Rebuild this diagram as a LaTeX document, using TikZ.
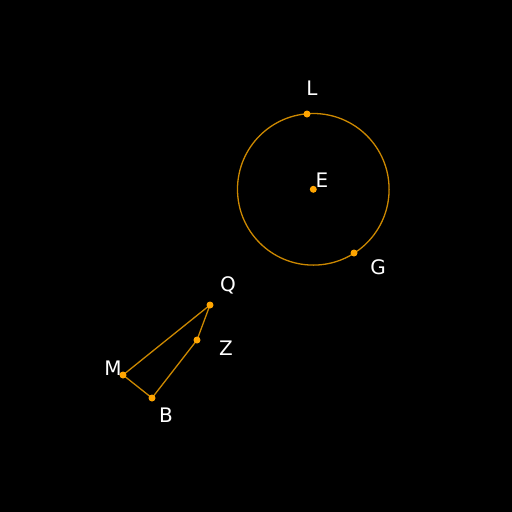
\documentclass[tikz,border=0pt]{standalone}
\usepackage{fontspec}
\setmainfont{DejaVu Sans}
\definecolor{lineor}{RGB}{204,136,0}
\definecolor{dotor}{RGB}{255,165,0}
\begin{document}
\begin{tikzpicture}[x=1pt,y=-1pt,
  seg/.style={draw=lineor,line width=1.3pt},
  pt/.style={circle,fill=dotor,inner sep=0pt,minimum size=7pt},
  lbl/.style={text=white,font=\fontsize{20}{20}\selectfont,inner sep=0pt}]
\fill[black] (0,0) rectangle (512,512);
\useasboundingbox (0,0) rectangle (512,512);
\coordinate (Ec) at (313.3,189.3);
\draw[seg] (Ec) circle[radius=75.8];
\coordinate (Qc) at (210,305);
\coordinate (Zc) at (197,340);
\coordinate (Bc) at (152,398);
\coordinate (Mc) at (123,375);
\draw[seg,line join=round] (Mc) -- (Qc) -- (Zc) -- (Bc) -- cycle;
\node[pt] (E) at (Ec) {};
\node[pt] (L) at (307,114) {};
\node[pt] (G) at (354,253) {};
\node[pt] (Q) at (Qc) {};
\node[pt] (Z) at (Zc) {};
\node[pt] (B) at (Bc) {};
\node[pt] (M) at (Mc) {};
\node[lbl] (tL) at (312,88) {L};
\node[lbl] (tE) at (322,180) {E};
\node[lbl] (tG) at (378,267) {G};
\node[lbl] (tQ) at (228,285) {Q};
\node[lbl] (tZ) at (226,348) {Z};
\node[lbl] (tM) at (113,368) {M};
\node[lbl] (tB) at (166,415) {B};
\end{tikzpicture}
\end{document}
